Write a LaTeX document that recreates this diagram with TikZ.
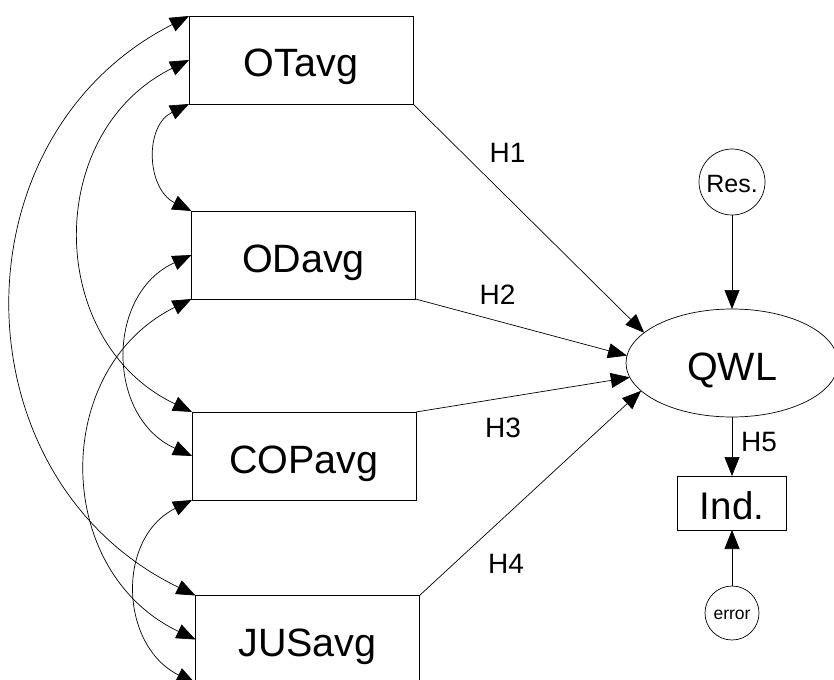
\documentclass[tikz,border=0pt]{standalone}
\usepackage{fontspec}
\setmainfont{Liberation Sans}
\usetikzlibrary{arrows.meta,shapes.geometric}
\begin{document}
\begin{tikzpicture}[x=1pt,y=-1pt,
  >={Triangle[length=19pt,width=15pt]},
  line width=0.7pt,
  var/.style={draw, rectangle, minimum width=224pt, minimum height=88pt,
    inner sep=0pt, outer sep=0pt, font=\fontsize{39.5}{40}\selectfont,
    text height=34pt, text depth=0pt},
  lat/.style={draw, ellipse, minimum width=212pt, minimum height=108pt,
    inner sep=0pt, outer sep=0pt, font=\fontsize{39.5}{40}\selectfont,
    text height=34pt, text depth=0pt},
  indbox/.style={draw, rectangle, minimum width=109pt, minimum height=54pt,
    inner sep=0pt, outer sep=0pt, font=\fontsize{38.5}{40}\selectfont,
    text height=32pt, text depth=0pt},
  rescirc/.style={draw, circle, minimum size=66pt, inner sep=0pt, outer sep=0pt,
    font=\fontsize{25}{27}\selectfont, text height=20pt, text depth=0pt},
  errcirc/.style={draw, circle, minimum size=54pt, inner sep=0pt, outer sep=0pt,
    font=\fontsize{17.5}{19}\selectfont, text height=12pt, text depth=0pt},
  hlab/.style={anchor=base, inner sep=0pt, font=\fontsize{28}{30}\selectfont},
  cov/.style={<->}
]
\useasboundingbox (0,0) rectangle (834,679);
\clip (0,0) rectangle (834,679);

% observed variables
\node[var] (OT)  at (301,60)    {OTavg};
\node[var] (OD)  at (303.5,255) {ODavg};
\node[var] (COP) at (304,456)   {COPavg};
\node[var] (JU)  at (307.5,639.5) {JUSavg};

% latent, residual, indicator, error
\node[lat]     (QWL) at (732,363) {QWL};
\node[rescirc] (Res) at (732,182) {Res.};
\node[indbox]  (Ind) at (732,503) {Ind.};
\node[errcirc] (err) at (732,613) {error};

% hypothesis labels
\node[hlab] (h1) at (507.5,163) {H1};
\node[hlab] (h2) at (497.5,304) {H2};
\node[hlab] (h3) at (503,437)   {H3};
\node[hlab] (h4) at (506,573)   {H4};
\node[hlab] (h5) at (759,451)   {H5};

% paths
\draw[->] (OT.south east)  -- (QWL.161);
\draw[->] (OD.south east)  -- (QWL.176);
\draw[->] (COP.north east) -- (QWL.188);
\draw[->] (JU.north east)  -- (QWL.197);
\draw[->] (Res.south) -- (QWL.north);
\draw[->] (QWL.south) -- (Ind.north);
\draw[->] (err.north) -- (Ind.south);

% covariances
\draw[cov] (OT.north west) .. controls +(-238,121) and +(-240,-116) .. (JU.north west);
\draw[cov] (OT.west) .. controls +(-146,72) and +(-147,-70) .. (COP.north west);
\draw[cov] (OT.south west) .. controls +(-45,22) and +(-45,-22) .. (OD.north west);
\draw[cov] (OD.west) .. controls +(-86,39) and +(-86,-39) .. (COP.west);
\draw[cov] (OD.south west) .. controls +(-141,70) and +(-143,-68) .. (JU.west);
\draw[cov] (COP.south west) .. controls +(-76,38) and +(-76,-38) .. (JU.south west);
\end{tikzpicture}
\end{document}
